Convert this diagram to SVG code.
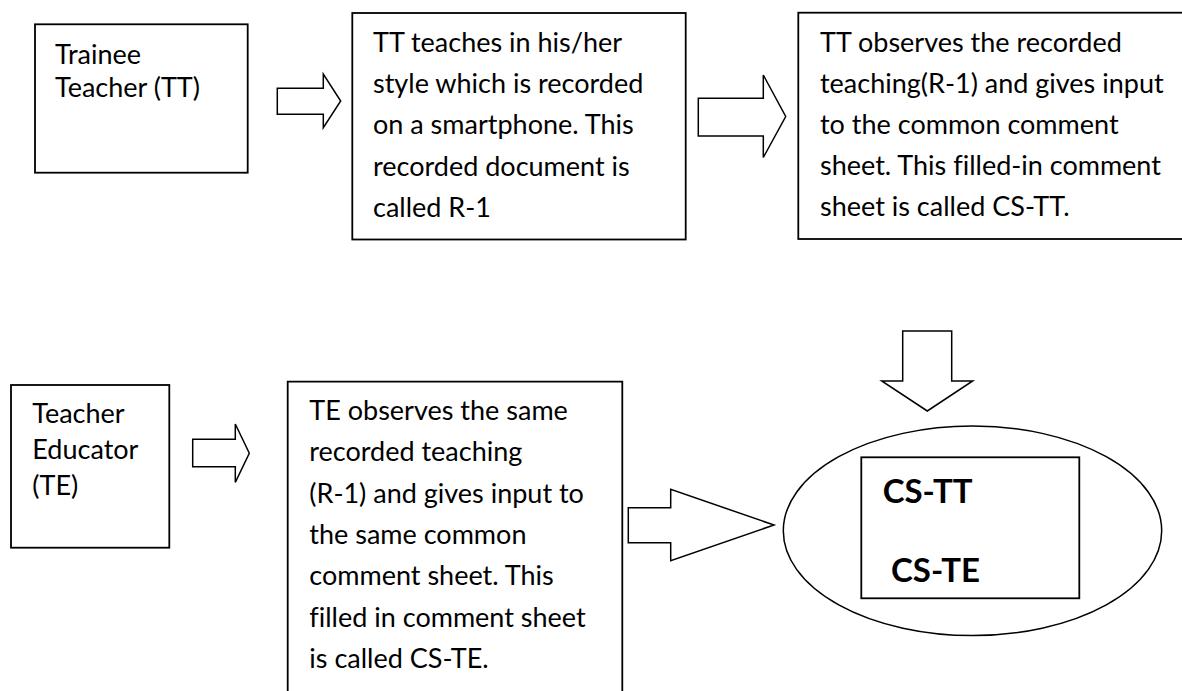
<svg xmlns="http://www.w3.org/2000/svg" width="1182" height="691" viewBox="0 0 1182 691">
<style>
.box{fill:#fff;stroke:#000;stroke-width:1.8}
.arr{fill:#fff;stroke:#000;stroke-width:1.5;stroke-linejoin:miter}
.t{font-family:Lato,"Liberation Sans",sans-serif;font-size:27px;fill:#000;font-variant-ligatures:none}
.b{font-family:Lato,"Liberation Sans",sans-serif;font-size:33px;font-weight:bold;fill:#000}
</style>
<rect width="1182" height="691" fill="#fff"/>
<g id="connectors">
<polygon class="arr" points="277.3,88.3 323.3,88.3 323.3,74 340.7,101 323.3,127.7 323.3,114.3 277.3,114.3"/>
<polygon class="arr" points="698.3,98.3 763.3,98.3 763.3,75 785.7,116.5 763.3,157.5 763.3,136 698.3,136"/>
<polygon class="arr" points="902.7,331 951.7,331 951.7,381 972.7,381 927.3,411 881.7,381 902.7,381"/>
<polygon class="arr" points="192.7,439.3 235.3,439.3 235.3,424 249.3,453.3 235.3,482.3 235.3,466.7 192.7,466.7"/>
<polygon class="arr" points="628.3,507.7 670.7,507.7 670.7,489.3 774,525 670.7,560.7 670.7,542.7 628.3,542.7"/>
</g>
<g id="trainee">
<rect class="box" x="35" y="24.3" width="212.7" height="148.4"/>
<text class="t" x="55" y="63.5">Trainee</text>
<text class="t" x="55" y="97">Teacher (TT)</text>
</g>
<g id="tt-teaches">
<rect class="box" x="352.3" y="13" width="333.4" height="226.5"/>
<text class="t" x="373" y="52">TT teaches in his/her</text>
<text class="t" x="373" y="93.2">style which is recorded</text>
<text class="t" x="373" y="134.4">on a smartphone. This</text>
<text class="t" x="373" y="175.6">recorded document is</text>
<text class="t" x="373" y="216.8">called R-1</text>
</g>
<g id="tt-observes">
<rect class="box" x="798.3" y="12.7" width="390" height="226.3"/>
<text class="t" x="820" y="51.5">TT observes the recorded</text>
<text class="t" x="820" y="92.7">teaching(R-1) and gives input</text>
<text class="t" x="820" y="133.9">to the common comment</text>
<text class="t" x="820" y="175.1">sheet. This filled-in comment</text>
<text class="t" x="820" y="216.3">sheet is called CS-TT.</text>
</g>
<g id="teacher-educator">
<rect class="box" x="11" y="385" width="158.3" height="162.7"/>
<text class="t" x="32.3" y="423.3">Teacher</text>
<text class="t" x="32.3" y="459.3">Educator</text>
<text class="t" x="32.3" y="495.3">(TE)</text>
</g>
<g id="te-observes">
<path class="box" d="M287.7,695 V381.7 H622.3 V695"/>
<text class="t" x="309.3" y="420">TE observes the same</text>
<text class="t" x="309.3" y="461.3">recorded teaching</text>
<text class="t" x="309.3" y="502.6">(R-1) and gives input to</text>
<text class="t" x="309.3" y="543.9">the same common</text>
<text class="t" x="309.3" y="585.2">comment sheet. This</text>
<text class="t" x="309.3" y="626.5">filled in comment sheet</text>
<text class="t" x="309.3" y="667.8">is called CS-TE.</text>
</g>
<g id="comment-sheets">
<ellipse class="arr" cx="972.5" cy="530.8" rx="189.2" ry="104.8"/>
<rect class="box" x="861.3" y="457.3" width="218" height="141"/>
<text class="b" x="882.7" y="503.3">CS-TT</text>
<text class="b" x="891" y="581.7">CS-TE</text>
</g>
</svg>
